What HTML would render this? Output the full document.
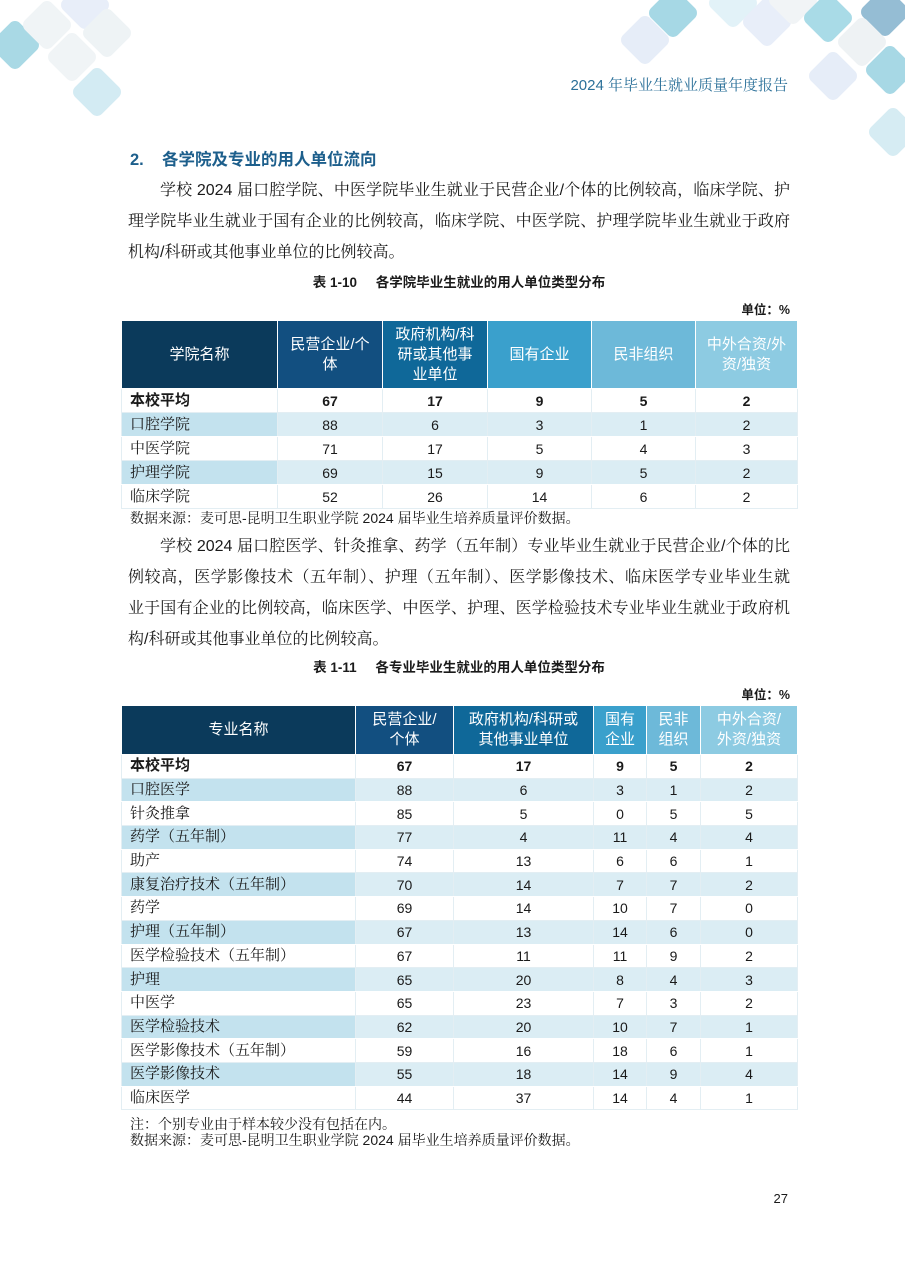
<!DOCTYPE html>
<html><head><meta charset="utf-8">
<style>
html,body{margin:0;padding:0;}
body{width:905px;height:1279px;position:relative;background:#fff;overflow:hidden;font-family:"Liberation Sans","Noto Serif CJK SC",serif;color:#1a1a1a;}
.abs{position:absolute;}
.sans{font-family:"Liberation Sans","Noto Sans CJK SC",sans-serif;}
.para{position:absolute;left:128px;width:662px;font-size:16px;line-height:31px;}
.para div{text-align:justify;text-align-last:justify;}
.para div.last{text-align:left;text-align-last:left;}
.cap{position:absolute;left:0;width:918px;text-align:center;font-family:"Liberation Sans","Noto Sans CJK SC",sans-serif;font-weight:bold;font-size:13.5px;line-height:18px;}
.unit{position:absolute;right:115px;font-family:"Liberation Sans","Noto Sans CJK SC",sans-serif;font-weight:bold;font-size:12.5px;line-height:16px;}
.src{position:absolute;left:130px;font-size:14px;line-height:18px;}
table{position:absolute;left:121px;width:676px;border-collapse:collapse;table-layout:fixed;}
th{color:#fff;font-weight:normal;font-family:"Liberation Sans","Noto Sans CJK SC",sans-serif;font-size:15px;line-height:20px;border:1px solid #fff;text-align:center;padding:0;vertical-align:middle;}
td{border:1px solid #e3eef3;font-size:14px;text-align:center;padding:0;vertical-align:middle;line-height:18px;}
td.n{padding-left:8px;text-align:left;font-size:15px;}
tr.s td{background:#dbedf4;border-top-color:#fff;border-bottom-color:#fff;}
tr.s td.n{background:#c3e2ee;}
tr.b td{font-weight:bold;font-family:"Liberation Sans","Noto Sans CJK SC",sans-serif;}
.c1{background:#0b3a5b;}.c2{background:#124f80;}.c3{background:#0f6899;}.c4{background:#3aa0cc;}.c5{background:#6db9d9;}.c6{background:#8dcbe2;}
</style></head>
<body>
<svg class="abs" style="left:0;top:0" width="905" height="170">
<rect x="-4" y="26" width="38" height="38" rx="7" fill="#a9d9e5" transform="rotate(45 15 45)"/>
<rect x="66" y="-14" width="38" height="38" rx="7" fill="#e8eef9" transform="rotate(45 85 5)"/>
<rect x="28" y="6" width="38" height="38" rx="7" fill="#f0f4f6" transform="rotate(45 47 25)"/>
<rect x="53" y="38" width="38" height="38" rx="7" fill="#f0f4f6" transform="rotate(45 72 57)"/>
<rect x="88" y="14" width="38" height="38" rx="7" fill="#eef3f5" transform="rotate(45 107 33)"/>
<rect x="78" y="73" width="38" height="38" rx="7" fill="#d3ebf3" transform="rotate(45 97 92)"/>

<rect x="654" y="-6" width="38" height="38" rx="7" fill="#a6d8e5" transform="rotate(45 673 13)"/>
<rect x="626" y="21" width="38" height="38" rx="7" fill="#e6edf8" transform="rotate(45 645 40)"/>
<rect x="714" y="-16" width="38" height="38" rx="7" fill="#e2f2f8" transform="rotate(45 733 3)"/>
<rect x="748" y="3" width="38" height="38" rx="7" fill="#e8eef9" transform="rotate(45 767 22)"/>
<rect x="774" y="-19" width="38" height="38" rx="7" fill="#f1f4f6" transform="rotate(45 793 0)"/>
<rect x="809" y="-1" width="38" height="38" rx="7" fill="#a9dbe7" transform="rotate(45 828 18)"/>
<rect x="866" y="-7" width="38" height="38" rx="7" fill="#95bdd4" transform="rotate(45 885 12)"/>
<rect x="843" y="23" width="38" height="38" rx="7" fill="#eef2f4" transform="rotate(45 862 42)"/>
<rect x="814" y="57" width="38" height="38" rx="7" fill="#e6edf8" transform="rotate(45 833 76)"/>
<rect x="871" y="51" width="38" height="38" rx="7" fill="#a7d8e5" transform="rotate(45 890 70)"/>
<rect x="874" y="113" width="38" height="38" rx="7" fill="#d6ecf3" transform="rotate(45 893 132)"/>
</svg>

<div class="abs" style="right:117px;top:76px;font-size:15px;line-height:20px;color:#2b7099;">2024 年毕业生就业质量年度报告</div>

<div class="abs sans" style="left:130px;top:150px;font-size:16.5px;line-height:20px;color:#1d5f8c;font-weight:bold;">2.</div>
<div class="abs sans" style="left:162px;top:150px;font-size:16.5px;line-height:20px;color:#1d5f8c;font-weight:bold;">各学院及专业的用人单位流向</div>

<div class="para" style="top:175px;">
<div style="padding-left:32px;">学校 2024 届口腔学院、中医学院毕业生就业于民营企业/个体的比例较高，临床学院、护</div>
<div>理学院毕业生就业于国有企业的比例较高，临床学院、中医学院、护理学院毕业生就业于政府</div>
<div class="last">机构/科研或其他事业单位的比例较高。</div>
</div>

<div class="cap" style="top:274px;">表 1-10&nbsp;&nbsp;&nbsp;&nbsp;&nbsp;各学院毕业生就业的用人单位类型分布</div>
<div class="unit" style="top:302px;">单位：%</div>

<table style="top:320px;">
<colgroup><col style="width:156px"><col style="width:105px"><col style="width:105px"><col style="width:104px"><col style="width:104px"><col style="width:102px"></colgroup>
<tr style="height:68px;"><th class="c1">学院名称</th><th class="c2">民营企业/个<br>体</th><th class="c3">政府机构/科<br>研或其他事<br>业单位</th><th class="c4">国有企业</th><th class="c5">民非组织</th><th class="c6">中外合资/外<br>资/独资</th></tr>
<tr class="b" style="height:24px;"><td class="n">本校平均</td><td>67</td><td>17</td><td>9</td><td>5</td><td>2</td></tr>
<tr class="s" style="height:24px;"><td class="n">口腔学院</td><td>88</td><td>6</td><td>3</td><td>1</td><td>2</td></tr>
<tr style="height:24px;"><td class="n">中医学院</td><td>71</td><td>17</td><td>5</td><td>4</td><td>3</td></tr>
<tr class="s" style="height:24px;"><td class="n">护理学院</td><td>69</td><td>15</td><td>9</td><td>5</td><td>2</td></tr>
<tr style="height:24px;"><td class="n">临床学院</td><td>52</td><td>26</td><td>14</td><td>6</td><td>2</td></tr>
</table>

<div class="src" style="top:509px;">数据来源：麦可思-昆明卫生职业学院 2024 届毕业生培养质量评价数据。</div>

<div class="para" style="top:531px;">
<div style="padding-left:32px;">学校 2024 届口腔医学、针灸推拿、药学（五年制）专业毕业生就业于民营企业/个体的比</div>
<div>例较高，医学影像技术（五年制）、护理（五年制）、医学影像技术、临床医学专业毕业生就</div>
<div>业于国有企业的比例较高，临床医学、中医学、护理、医学检验技术专业毕业生就业于政府机</div>
<div class="last">构/科研或其他事业单位的比例较高。</div>
</div>

<div class="cap" style="top:659px;">表 1-11&nbsp;&nbsp;&nbsp;&nbsp;&nbsp;各专业毕业生就业的用人单位类型分布</div>
<div class="unit" style="top:687px;">单位：%</div>

<table style="top:705px;">
<colgroup><col style="width:234px"><col style="width:98px"><col style="width:140px"><col style="width:53px"><col style="width:54px"><col style="width:97px"></colgroup>
<tr style="height:49px;"><th class="c1">专业名称</th><th class="c2">民营企业/<br>个体</th><th class="c3">政府机构/科研或<br>其他事业单位</th><th class="c4">国有<br>企业</th><th class="c5">民非<br>组织</th><th class="c6">中外合资/<br>外资/独资</th></tr>
<tr class="b" style="height:23.7px;"><td class="n">本校平均</td><td>67</td><td>17</td><td>9</td><td>5</td><td>2</td></tr>
<tr class="s" style="height:23.7px;"><td class="n">口腔医学</td><td>88</td><td>6</td><td>3</td><td>1</td><td>2</td></tr>
<tr style="height:23.7px;"><td class="n">针灸推拿</td><td>85</td><td>5</td><td>0</td><td>5</td><td>5</td></tr>
<tr class="s" style="height:23.7px;"><td class="n">药学（五年制）</td><td>77</td><td>4</td><td>11</td><td>4</td><td>4</td></tr>
<tr style="height:23.7px;"><td class="n">助产</td><td>74</td><td>13</td><td>6</td><td>6</td><td>1</td></tr>
<tr class="s" style="height:23.7px;"><td class="n">康复治疗技术（五年制）</td><td>70</td><td>14</td><td>7</td><td>7</td><td>2</td></tr>
<tr style="height:23.7px;"><td class="n">药学</td><td>69</td><td>14</td><td>10</td><td>7</td><td>0</td></tr>
<tr class="s" style="height:23.7px;"><td class="n">护理（五年制）</td><td>67</td><td>13</td><td>14</td><td>6</td><td>0</td></tr>
<tr style="height:23.7px;"><td class="n">医学检验技术（五年制）</td><td>67</td><td>11</td><td>11</td><td>9</td><td>2</td></tr>
<tr class="s" style="height:23.7px;"><td class="n">护理</td><td>65</td><td>20</td><td>8</td><td>4</td><td>3</td></tr>
<tr style="height:23.7px;"><td class="n">中医学</td><td>65</td><td>23</td><td>7</td><td>3</td><td>2</td></tr>
<tr class="s" style="height:23.7px;"><td class="n">医学检验技术</td><td>62</td><td>20</td><td>10</td><td>7</td><td>1</td></tr>
<tr style="height:23.7px;"><td class="n">医学影像技术（五年制）</td><td>59</td><td>16</td><td>18</td><td>6</td><td>1</td></tr>
<tr class="s" style="height:23.7px;"><td class="n">医学影像技术</td><td>55</td><td>18</td><td>14</td><td>9</td><td>4</td></tr>
<tr style="height:23.7px;"><td class="n">临床医学</td><td>44</td><td>37</td><td>14</td><td>4</td><td>1</td></tr>
</table>

<div class="src" style="top:1115px;">注：个别专业由于样本较少没有包括在内。</div>
<div class="src" style="top:1131px;">数据来源：麦可思-昆明卫生职业学院 2024 届毕业生培养质量评价数据。</div>

<div class="abs" style="right:117px;top:1191px;font-size:13px;line-height:16px;">27</div>
</body></html>
